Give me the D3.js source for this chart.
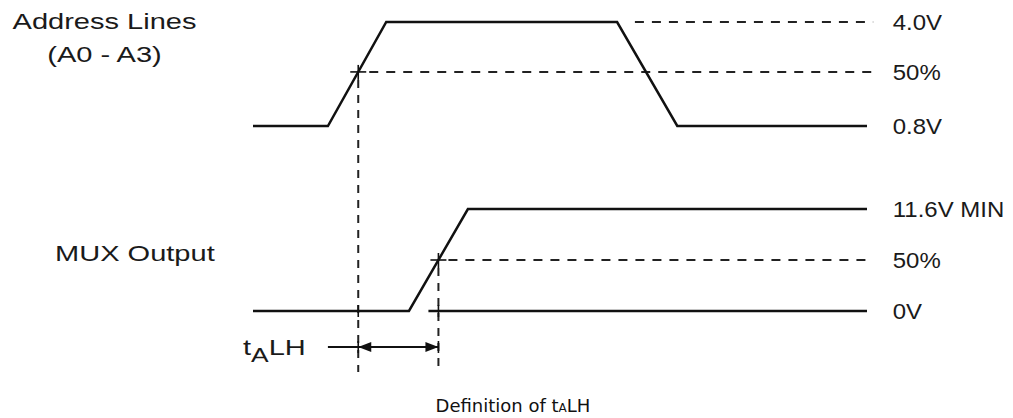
<!DOCTYPE html>
<html>
<head>
<meta charset="utf-8">
<script src="https://cdn.jsdelivr.net/npm/d3@7"></script>
<style>
  body { margin: 0; background: #fff; }
  svg { display: block; }
  .lbl { font-family: "Liberation Sans", Arial, sans-serif; font-size: 22px; fill: #1a1a1a; }
  .cap { font-family: "DejaVu Sans", Verdana, sans-serif; font-size: 18px; fill: #111; }
</style>
</head>
<body>
<svg id="chart" width="1013" height="418"></svg>
<script>
// time is in arbitrary units, 0..100 spans the drawn waveforms
const addressWave = [[0, 0], [12.2, 0], [21.7, 1], [59.3, 1], [69.1, 0], [100, 0]];
const muxWave = [[0, 0], [25.4, 0], [35, 1], [100, 1]];
const addressLevels = ['4.0V', '50%', '0.8V'];
const muxLevels = ['11.6V MIN', '50%', '0V'];
const addressMid = 0.52;
const muxMid = 0.5;
const addressName = ['Address Lines', '(A0 - A3)'];
const muxName = 'MUX Output';

const svg = d3.select('#chart');
const x = d3.scaleLinear().domain([0, 100]).range([253, 867]);
const yA = d3.scaleLinear().domain([0, 1]).range([126, 22]);
const yM = d3.scaleLinear().domain([0, 1]).range([311, 209]);
const arrowY = 347, bottomY = 372;
const stretch = 1.32;      // left-hand labels are drawn wide in the original
const stretchRight = 1.09;
const line = y => d3.line().x(d => x(d[0])).y(d => y(d[1]));

// first time the wave crosses the given level
function crossing(wave, level) {
  for (let i = 1; i < wave.length; i++) {
    const [t0, v0] = wave[i - 1], [t1, v1] = wave[i];
    if (v0 < level && v1 >= level) return t0 + (level - v0) / (v1 - v0) * (t1 - t0);
  }
}
const tA = crossing(addressWave, addressMid);
const tM = crossing(muxWave, muxMid);
const xA = x(tA), xM = x(tM);

const dashed = (x1, y1, x2, y2, dash) => svg.append('line')
  .attr('x1', x1).attr('y1', y1).attr('x2', x2).attr('y2', y2)
  .attr('stroke', '#222').attr('stroke-width', 2).attr('stroke-dasharray', dash || '9,8');
const solid = (x1, y1, x2, y2, w) => svg.append('line')
  .attr('x1', x1).attr('y1', y1).attr('x2', x2).attr('y2', y2)
  .attr('stroke', '#111').attr('stroke-width', w || 1.6);

// reference levels
dashed(x(62.2), yA(1), x(101), yA(1));
dashed(xA + 11, yA(addressMid), x(101), yA(addressMid));
dashed(xM + 10, yM(muxMid), x(101), yM(muxMid));
solid(xM - 10, yM(0), x(100), yM(0), 2.5);

// verticals at 50% points
dashed(xA, yA(addressMid) + 8, xA, bottomY, '8,7');
dashed(xM, yM(muxMid) + 8, xM, bottomY, '8,7');

// cross marks
[[xA, yA(addressMid)], [xM, yM(muxMid)]].forEach(([cx, cy]) => {
  solid(cx - 8, cy, cx + 8, cy);
  solid(cx, cy - 7, cx, cy + 8);
});
[xA, xM].forEach(cx => {
  solid(cx, yM(0) - 6, cx, yM(0) + 6);
  solid(cx, arrowY - 6, cx, arrowY + 6);
});

// waveforms
svg.append('path').datum(addressWave).attr('d', line(yA))
  .attr('fill', 'none').attr('stroke', '#111').attr('stroke-width', 2.5);
svg.append('path').datum(muxWave).attr('d', line(yM))
  .attr('fill', 'none').attr('stroke', '#111').attr('stroke-width', 2.5);

// tALH arrow
solid(x(12.2), arrowY, xM, arrowY, 1.8);
const head = (tip, dir) => svg.append('path')
  .attr('d', `M${tip},${arrowY}L${tip + dir * 13},${arrowY - 5}L${tip + dir * 13},${arrowY + 5}Z`)
  .attr('fill', '#111');
head(xA, 1);
head(xM, -1);

// labels on the right
const lblX = x(104.2);
const yLevels = [1, null, 0];
const rightLabel = (t, yPos) => svg.append('text').attr('class', 'lbl')
  .attr('transform', `translate(${lblX},${yPos}) scale(${stretchRight},1)`)
  .attr('dy', '0.35em').text(t);
addressLevels.forEach((t, i) => rightLabel(t, yA(i === 1 ? addressMid : yLevels[i])));
muxLevels.forEach((t, i) => rightLabel(t, yM(i === 1 ? muxMid : yLevels[i])));

// names on the left
addressName.forEach((t, i) => svg.append('text').attr('class', 'lbl')
  .attr('transform', `translate(104.5,${29 + i * 33}) scale(${stretch},1)`)
  .attr('text-anchor', 'middle').text(t));
svg.append('text').attr('class', 'lbl')
  .attr('transform', `translate(55,${yM(muxMid) + 1}) scale(${stretch},1)`)
  .text(muxName);

const tl = svg.append('text').attr('class', 'lbl')
  .attr('transform', `translate(243,355) scale(${stretch},1)`);
tl.append('tspan').text('t');
tl.append('tspan').attr('dy', 7).attr('font-size', 20).text('A');
tl.append('tspan').attr('dy', -7).text('LH');

// caption
const cap = svg.append('text').attr('class', 'cap').attr('x', 513).attr('y', 412)
  .attr('text-anchor', 'middle');
cap.append('tspan').text('Definition of t');
cap.append('tspan').attr('font-size', 12).text('A');
cap.append('tspan').text('LH');
</script>
</body>
</html>
